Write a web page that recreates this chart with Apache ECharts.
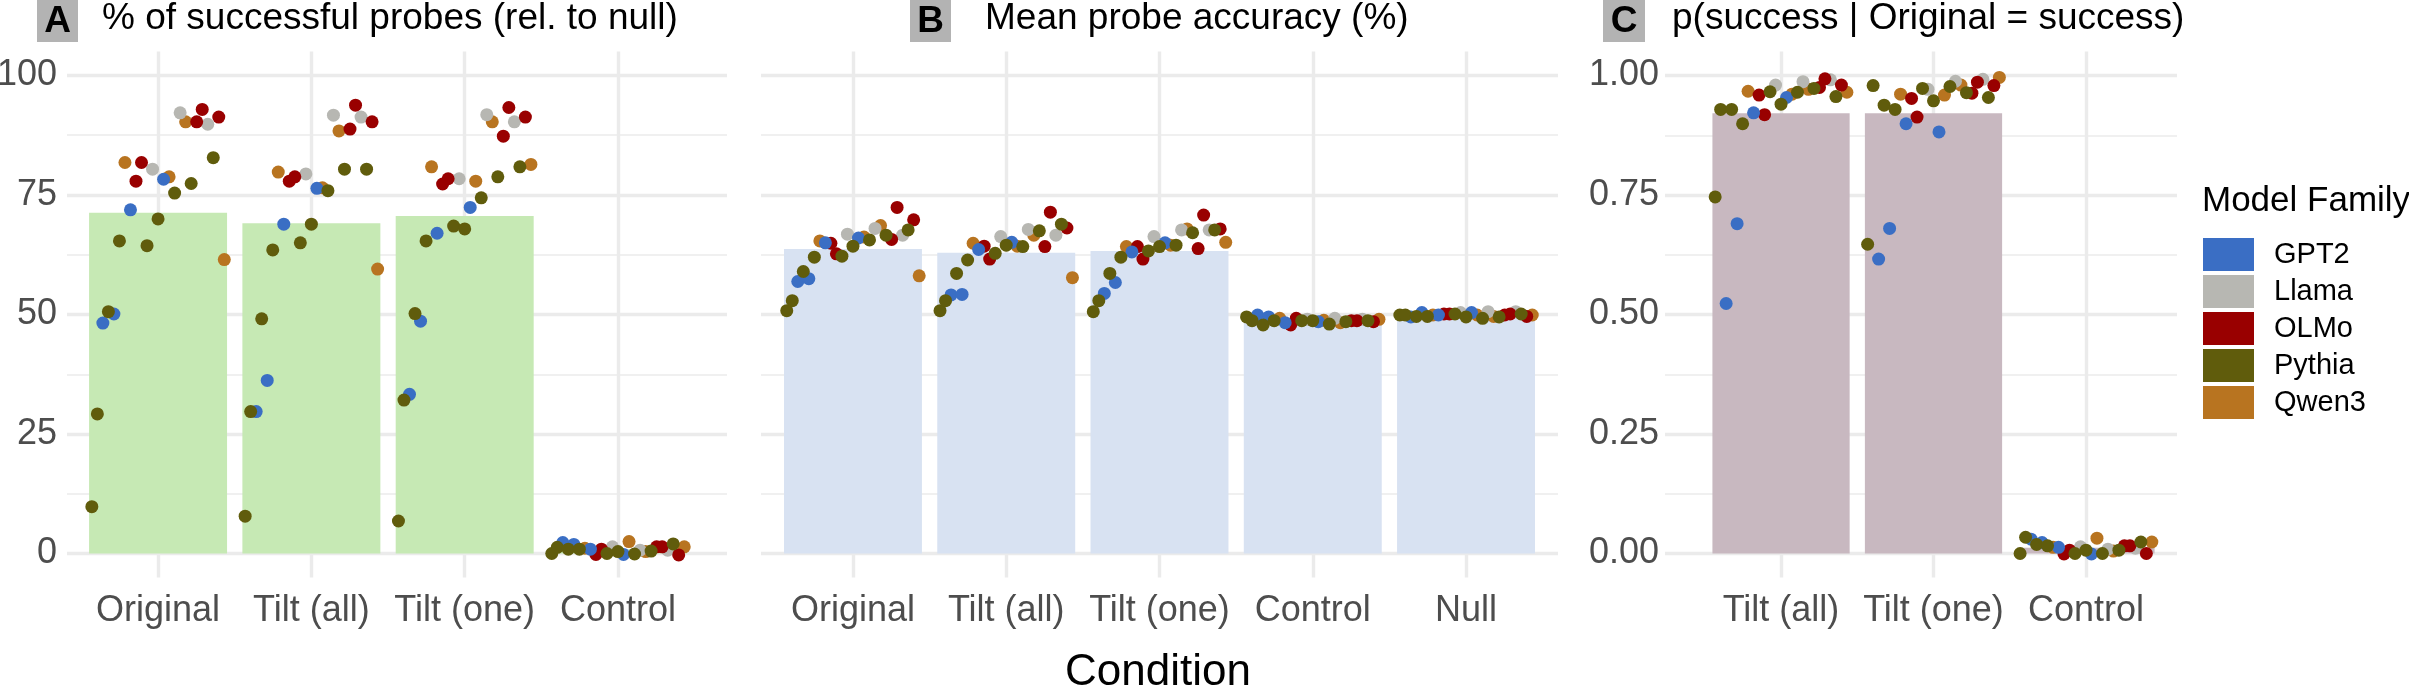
<!DOCTYPE html>
<html>
<head>
<meta charset="utf-8">
<script src="https://cdn.jsdelivr.net/npm/echarts@6/dist/echarts.min.js"></script>
<style>
  html, body { margin: 0; padding: 0; background: #fff; }
  #chart { width: 2409px; height: 692px; }
</style>
</head>
<body>
<div id="chart"></div>
<script>
// categories of each panel
const categoriesA = ["Original", "Tilt (all)", "Tilt (one)", "Control"];
const categoriesB = ["Original", "Tilt (all)", "Tilt (one)", "Control", "Null"];
const categoriesC = ["Tilt (all)", "Tilt (one)", "Control"];
const families = ["GPT2", "Llama", "OLMo", "Pythia", "Qwen3"];

// family of each model, in dodge order (left to right inside a bar)
const modelFamily = [
  "Pythia", "Pythia", "GPT2", "Pythia", "GPT2", "Pythia", "Qwen3", "GPT2", "OLMo", "OLMo",
  "Pythia", "Llama", "Pythia", "GPT2", "Qwen3", "Pythia", "Llama", "Qwen3", "Pythia", "OLMo",
  "OLMo", "Llama", "Pythia", "OLMo", "Qwen3"
];

// A: % of successful probes (rel. to null)
const aMeans = [71.3, 69.1, 70.6, 0.9];
const aOriginal = [9.8, 29.2, 48.2, 50.6, 50.1, 65.4, 81.8, 71.9, 77.9, 81.8, 64.4, 80.4, 70.0, 78.3, 78.8, 75.4, 92.2, 90.3, 77.4, 90.3, 92.9, 89.8, 82.8, 91.3, 61.5];
const aTiltAll = [7.8, 29.7, 29.7, 49.1, 36.2, 63.5, 79.8, 68.9, 77.9, 78.8, 65.0, 79.4, 68.9, 76.4, 76.5, 75.9, 91.7, 88.4, 80.4, 88.8, 93.8, 91.3, 80.4, 90.3, 59.5];
const aTiltOne = [6.8, 32.1, 33.3, 50.2, 48.6, 65.4, 80.9, 67.0, 77.3, 78.4, 68.5, 78.4, 67.9, 72.4, 77.9, 74.4, 91.8, 90.3, 78.8, 87.3, 93.3, 90.3, 80.9, 91.3, 81.4];
const aControl = [0.0, 1.3, 2.3, 0.9, 1.9, 0.9, 1.1, 0.9, -0.2, 0.9, 0.0, 1.4, 0.4, -0.2, 2.5, -0.1, 0.7, 0.4, 0.5, 1.4, 1.4, 0.7, 2.0, -0.3, 1.4];

// B: mean probe accuracy (%)
const bMeans = [63.7, 62.9, 63.3, 48.7, 49.9];
const bOriginal = [50.8, 52.9, 56.9, 59.0, 57.5, 62.0, 65.4, 65.0, 64.9, 62.7, 62.2, 66.8, 64.3, 66.0, 66.2, 65.6, 68.0, 68.6, 66.6, 65.7, 72.4, 66.6, 67.7, 69.8, 58.1];
const bTiltAll = [50.8, 52.9, 54.1, 58.6, 54.2, 61.4, 64.9, 63.6, 64.3, 61.6, 62.8, 66.3, 64.5, 65.1, 64.3, 64.2, 67.8, 66.6, 67.5, 64.2, 71.4, 66.6, 68.9, 68.1, 57.7];
const bTiltOne = [50.6, 52.9, 54.4, 58.6, 56.7, 62.0, 64.2, 63.1, 64.2, 61.6, 63.3, 66.3, 64.2, 65.0, 64.5, 64.5, 67.7, 67.9, 67.1, 63.8, 70.8, 67.7, 67.7, 67.9, 65.1];
const bControl = [49.5, 48.7, 49.9, 47.8, 49.5, 48.7, 49.2, 48.3, 47.8, 49.2, 48.7, 49.0, 48.7, 48.5, 48.8, 48.0, 49.2, 48.3, 48.5, 48.7, 48.7, 49.0, 48.7, 48.5, 49.0];
const bNull = [49.9, 49.9, 49.5, 49.6, 50.4, 49.6, 49.9, 49.9, 50.1, 50.1, 50.1, 50.4, 49.5, 50.4, 49.9, 49.2, 50.6, 49.6, 49.5, 49.9, 50.1, 50.6, 50.1, 49.6, 49.9];

// C: p(success | Original = success)
const cMeans = [0.921, 0.921, 0.012];
const cTiltAll = [0.746, 0.929, 0.523, 0.929, 0.690, 0.899, 0.967, 0.922, 0.959, 0.918, 0.966, 0.980, 0.940, 0.954, 0.961, 0.965, 0.987, 0.971, 0.973, 0.975, 0.993, 0.991, 0.956, 0.980, 0.965];
const cTiltOne = [0.647, 0.979, 0.616, 0.938, 0.680, 0.929, 0.961, 0.899, 0.952, 0.913, 0.973, 0.971, 0.947, 0.882, 0.959, 0.977, 0.988, 0.980, 0.964, 0.963, 0.986, 0.992, 0.954, 0.979, 0.996];
const cControl = [0.000, 0.034, 0.030, 0.019, 0.023, 0.016, 0.013, 0.013, -0.001, 0.007, 0.000, 0.014, 0.007, -0.001, 0.032, 0.000, 0.009, 0.005, 0.007, 0.016, 0.016, 0.011, 0.024, 0.000, 0.024];

const familyColors = {
  GPT2: "#3A6EC4",
  Llama: "#B7B7B2",
  OLMo: "#990000",
  Pythia: "#605C0C",
  Qwen3: "#B87420"
};
// drawing order of the points (later = on top)
const drawOrder = ["Qwen3", "Llama", "OLMo", "GPT2", "Pythia"];

const FONT = "Liberation Sans";
const GRID_COLOR = "#EBEBEB";
const AXIS_TEXT = "#4D4D4D";
const BAR_WIDTH = 0.9;
const DODGE_STEP = BAR_WIDTH / modelFamily.length;

const panels = [
  { cats: categoriesA, means: aMeans, values: [aOriginal, aTiltAll, aTiltOne, aControl], fill: "#C6E9B4",
    grid: { left: 67, width: 660 }, xMin: 0.406, xMax: 4.711,
    yMin: -5, yMax: 105, major: [0, 25, 50, 75, 100], minor: [12.5, 37.5, 62.5, 87.5],
    showY: true, yFmt: v => String(v), yMargin: 10 },
  { cats: categoriesB, means: bMeans, values: [bOriginal, bTiltAll, bTiltOne, bControl, bNull], fill: "#D8E2F2",
    grid: { left: 761, width: 797 }, xMin: 0.4, xMax: 5.6,
    yMin: -5, yMax: 105, major: [0, 25, 50, 75, 100], minor: [12.5, 37.5, 62.5, 87.5],
    showY: false, yFmt: v => String(v), yMargin: 10 },
  { cats: categoriesC, means: cMeans, values: [cTiltAll, cTiltOne, cControl], fill: "#C8B8C0",
    grid: { left: 1665, width: 512 }, xMin: 0.239, xMax: 3.597,
    yMin: -0.05, yMax: 1.05, major: [0, 0.25, 0.5, 0.75, 1], minor: [0.125, 0.375, 0.625, 0.875],
    showY: true, yFmt: v => v.toFixed(2), yMargin: 6 }
];

const grids = [], xAxes = [], yAxes = [], series = [];

panels.forEach((p, gi) => {
  grids.push({
    left: p.grid.left, width: p.grid.width, top: 51.6, height: 525.8,
    containLabel: false, outerBoundsMode: "none"
  });
  const catTicks = p.cats.map((c, i) => i + 1);
  xAxes.push({
    type: "value", gridIndex: gi, min: p.xMin, max: p.xMax,
    axisLine: { show: false },
    axisTick: { show: false, customValues: catTicks },
    axisLabel: {
      customValues: catTicks,
      formatter: v => p.cats[Math.round(v) - 1],
      fontFamily: FONT, fontSize: 36, color: AXIS_TEXT,
      verticalAlign: "middle", margin: 34
    },
    splitLine: { show: true, lineStyle: { color: GRID_COLOR, width: 3.4 } }
  });
  // major gridlines + labels
  yAxes.push({
    type: "value", gridIndex: gi, min: p.yMin, max: p.yMax, position: "left",
    axisLine: { show: false },
    axisTick: { show: false, customValues: p.major },
    axisLabel: {
      show: p.showY, customValues: p.major, formatter: p.yFmt,
      fontFamily: FONT, fontSize: 36, color: AXIS_TEXT, margin: p.yMargin
    },
    splitLine: { show: true, lineStyle: { color: GRID_COLOR, width: 3.4 } }
  });
  // minor gridlines
  yAxes.push({
    type: "value", gridIndex: gi, min: p.yMin, max: p.yMax, position: "right",
    axisLine: { show: false },
    axisTick: { show: false, customValues: p.minor },
    axisLabel: { show: false },
    splitLine: { show: true, lineStyle: { color: GRID_COLOR, width: 1.7 } }
  });

  // mean bars
  series.push({
    type: "custom", xAxisIndex: gi, yAxisIndex: gi * 2,
    data: p.means.map((v, i) => [i + 1, v]),
    encode: { x: 0, y: 1 },
    silent: true, z: 1,
    renderItem: (params, api) => {
      const x = api.value(0), y = api.value(1);
      const a = api.coord([x - BAR_WIDTH / 2, y]);
      const b = api.coord([x + BAR_WIDTH / 2, 0]);
      return {
        type: "rect",
        shape: { x: a[0], y: Math.min(a[1], b[1]), width: b[0] - a[0], height: Math.abs(b[1] - a[1]) },
        style: { fill: p.fill }
      };
    }
  });

  // dodged points, one series per family
  drawOrder.forEach(fam => {
    const data = [];
    p.values.forEach((vals, ci) => {
      vals.forEach((v, mi) => {
        if (modelFamily[mi] === fam) {
          data.push([ci + 1 + (mi - (modelFamily.length - 1) / 2) * DODGE_STEP, v]);
        }
      });
    });
    series.push({
      name: fam, type: "scatter", xAxisIndex: gi, yAxisIndex: gi * 2,
      symbolSize: 13, clip: false, z: 3,
      itemStyle: { color: familyColors[fam], opacity: 1 },
      data: data
    });
  });
});

const textStyle = (size, extra) => Object.assign({ fontFamily: FONT, fontSize: size, fill: "#000" }, extra || {});

const graphic = [
  // panel tags and titles
  { type: "rect", shape: { x: 37, y: 0, width: 41, height: 42 }, style: { fill: "#B3B3B3" } },
  { type: "text", x: 57.5, y: 22, style: textStyle(37, { text: "A", fontWeight: "bold", align: "center", verticalAlign: "middle" }) },
  { type: "text", x: 102, y: 19, style: textStyle(37, { text: "% of successful probes (rel. to null)", verticalAlign: "middle" }) },

  { type: "rect", shape: { x: 910, y: 0, width: 41, height: 42 }, style: { fill: "#B3B3B3" } },
  { type: "text", x: 930.5, y: 22, style: textStyle(37, { text: "B", fontWeight: "bold", align: "center", verticalAlign: "middle" }) },
  { type: "text", x: 985, y: 19, style: textStyle(37, { text: "Mean probe accuracy (%)", verticalAlign: "middle" }) },

  { type: "rect", shape: { x: 1603, y: 0, width: 42, height: 42 }, style: { fill: "#B3B3B3" } },
  { type: "text", x: 1624, y: 22, style: textStyle(37, { text: "C", fontWeight: "bold", align: "center", verticalAlign: "middle" }) },
  { type: "text", x: 1672, y: 19, style: textStyle(37, { text: "p(success | Original = success)", verticalAlign: "middle" }) },

  // shared x axis title
  { type: "text", x: 1158, y: 673, style: textStyle(44, { text: "Condition", align: "center", verticalAlign: "middle" }) },
  // legend title
  { type: "text", x: 2202, y: 201, style: textStyle(35, { text: "Model Family", verticalAlign: "middle" }) }
];

const chart = echarts.init(document.getElementById("chart"), null, { renderer: "canvas" });
chart.setOption({
  animation: false,
  backgroundColor: "#ffffff",
  grid: grids,
  xAxis: xAxes,
  yAxis: yAxes,
  legend: {
    data: families,
    orient: "vertical",
    left: 2203, top: 238, padding: 0,
    itemWidth: 51, itemHeight: 33, itemGap: 4,
    icon: "rect", selectedMode: false,
    formatter: name => "{t|" + name + "}",
    textStyle: {
      rich: { t: { fontFamily: FONT, fontSize: 29, color: "#000", padding: [0, 0, 0, 15], lineHeight: 33 } }
    }
  },
  graphic: graphic,
  series: series
});

window.addEventListener("resize", function () {
  chart.resize();
});
</script>
</body>
</html>
